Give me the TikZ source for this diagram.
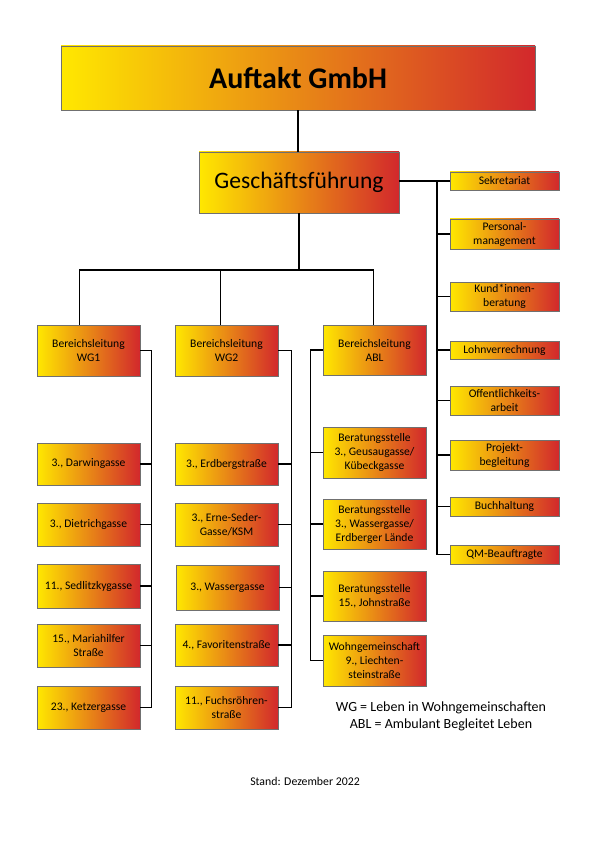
\documentclass[tikz,border=0pt]{standalone}
\usepackage{fontspec}
\setmainfont{Carlito}
\definecolor{gy}{HTML}{FFE800}
\definecolor{go}{HTML}{E8962A}
\definecolor{gr}{HTML}{D2282C}
\definecolor{bd}{HTML}{707070}
\newcommand\obox[7][]{%
  \node[ob,#1,minimum width={(#4-#2)*1pt},minimum height={(#5-#3)*1pt}] (#6) at ({(#2+#4)/2},{(#3+#5)/2}) {#7};}
\begin{document}
\begin{tikzpicture}[x=1pt,y=-1pt,
  ob/.style={draw=bd,line width=0.8pt,left color=gy,middle color=go,right color=gr,
    inner sep=0pt,align=center,font=\fontsize{11.6}{14}\selectfont},
  sm/.style={font=\fontsize{11.6}{14}\selectfont},
  cn/.style={line width=1.4pt,black}]
\useasboundingbox (0,0) rectangle (596,842);
% top
\obox[font=\fontsize{30}{32}\selectfont\bfseries]{61}{46}{535}{110}{top}{Auftakt GmbH}
\obox[font=\fontsize{23.6}{26}\selectfont]{199}{152}{399}{213}{gf}{Geschäftsführung}
% right column
\obox[sm]{450}{172}{559}{190}{sek}{\raisebox{2pt}{Sekretariat}}
\obox[sm]{450}{219}{559}{249}{pm}{Personal-\\management}
\obox[sm]{450}{282}{559}{311}{kb}{Kund*innen-\\beratung}
\obox[sm]{450}{341}{559}{359}{lv}{\raisebox{2pt}{Lohnverrechnung}}
\obox[sm]{450}{386}{559}{415}{oa}{Offentlichkeits-\\arbeit}
\obox[sm]{450}{440}{559}{470}{pb}{Projekt-\\begleitung}
\obox[sm]{450}{497}{559}{516}{bh}{\raisebox{2pt}{Buchhaltung}}
\obox[sm]{450}{545}{559}{564}{qm}{\raisebox{2pt}{QM-Beauftragte}}
% Bereichsleitungen
\obox{37}{325}{140}{376}{bl1}{Bereichsleitung\\WG1}
\obox{175}{325}{278}{376}{bl2}{Bereichsleitung\\WG2}
\obox{323}{325}{426}{375}{abl}{Bereichsleitung\\ABL}
% WG1
\obox{37}{443}{140}{485}{w1}{3., Darwingasse}
\obox{37}{503}{140}{546}{w2}{3., Dietrichgasse}
\obox{37}{564}{140}{608}{w3}{11., Sedlitzkygasse}
\obox{37}{624}{140}{667}{w4}{15., Mariahilfer\\Straße}
\obox{37}{686}{140}{729}{w5}{23., Ketzergasse}
% WG2
\obox{175}{443}{278}{485}{v1}{3., Erdbergstraße}
\obox{175}{503}{278}{546}{v2}{3., Erne-Seder-\\Gasse/KSM}
\obox{176}{565}{279}{610}{v3}{3., Wassergasse}
\obox{175}{624}{278}{666}{v4}{4., Favoritenstraße}
\obox{175}{686}{278}{729}{v5}{11., Fuchsröhren-\\straße}
% ABL
\obox{323}{427}{426}{478}{a1}{Beratungsstelle\\3., Geusaugasse/\\Kübeckgasse}
\obox{323}{499}{426}{549}{a2}{Beratungsstelle\\3., Wassergasse/\\Erdberger Lände}
\obox{323}{571}{426}{621}{a3}{Beratungsstelle\\15., Johnstraße}
\obox{323}{635}{426}{686}{a4}{\raisebox{4pt}{\parbox{103pt}{\centering Wohngemeinschaft\\9., Liechten-\\steinstraße}}}
% connectors
\coordinate (bus) at (298,270);
\coordinate (rv) at (437,181);
\draw[cn] (top.south) -- (top.south |- gf.north);
\draw[cn] (gf.south) -- (gf.south |- bus);
\draw[cn] ([xshift=43pt]bl1.north west) |- ([xshift=51pt]abl.north west |- bus) -- ([xshift=51pt]abl.north west);
\draw[cn] ([xshift=46pt]bl2.north west) -- ([xshift=46pt]bl2.north west |- bus);
\draw[cn] (gf.east |- sek.west) -- (sek.west);
\draw[cn] (rv) |- (qm.west);
\foreach \n in {pm,kb,lv,oa,pb,bh}{\draw[cn] (\n.west) -- (\n.west -| rv);}
\draw[cn] (bl1.east) -| ([xshift=11pt]w5.east) -- (w5.east);
\foreach \n in {w1,w2,w3,w4}{\draw[cn] (\n.east) -- ++(11,0);}
\draw[cn] (bl2.east) -| ([xshift=13pt]v5.east) -- (v5.east);
\foreach \n in {v1,v2,v4}{\draw[cn] (\n.east) -- ++(13,0);}
\draw[cn] (v3.east) -- ++(12,0);
\draw[cn] (abl.west) -| ([xshift=-12pt]a4.west) -- (a4.west);
\foreach \n in {a1,a2,a3}{\draw[cn] (\n.west) -- ++(-12,0);}
% legend
\node[font=\fontsize{14}{17}\selectfont,align=center] (leg) at (441,716) {WG = Leben in Wohngemeinschaften\\ABL = Ambulant Begleitet Leben};
\node[font=\fontsize{11.8}{13}\selectfont] (stand) at (305,781) {Stand: Dezember 2022};
\end{tikzpicture}
\end{document}
